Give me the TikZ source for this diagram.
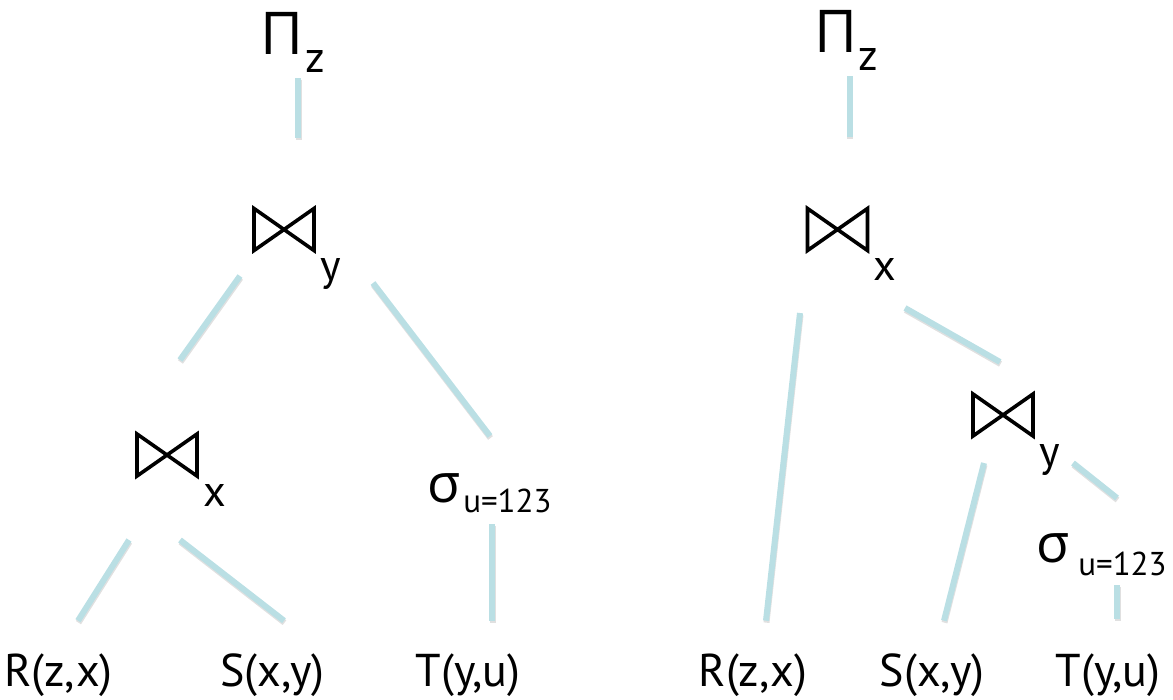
\documentclass[tikz,border=0pt]{standalone}
\usepackage{fontspec}
\setmainfont{PT Sans}
\newfontfamily\greekfont{Open Sans}
\usetikzlibrary{calc,positioning}
\definecolor{linkblue}{HTML}{BADFE4}
\newcommand{\selsub}[3]{{\greekfont\fontsize{54}{54}\selectfont σ}\hspace{#2}\raisebox{-#1}{\fontsize{33}{33}\selectfont #3}}

\begin{document}
\begin{tikzpicture}[x=1pt, y=-1pt,
  op/.style={inner sep=0pt, font=\greekfont\fontsize{59}{59}\selectfont},
  sel/.style={inner sep=0pt, anchor=base west},
  rel/.style={inner sep=0pt, anchor=base, font=\fontsize{46}{46}\selectfont},
  sub/.style={inner sep=0pt, font=\fontsize{44}{44}\selectfont},
  joinop/.style={inner sep=0pt, minimum width=70pt, minimum height=52pt,
    path picture={\draw[line width=3.6pt, line join=miter]
      ([shift={(5pt,-5pt)}]path picture bounding box.north west) --
      ([shift={(-5pt,5pt)}]path picture bounding box.south east) --
      ([shift={(-5pt,-5pt)}]path picture bounding box.north east) --
      ([shift={(5pt,5pt)}]path picture bounding box.south west) -- cycle;}},
  link/.style={draw=linkblue, line width=6pt,
    preaction={draw=black, opacity=0.12, line width=6pt, transform canvas={shift={(0.5pt,-2pt)}}}}
]
  \useasboundingbox (0,0) rectangle (1173,699);

  % left plan
  \node[op, label={[sub, anchor=north west, xshift=1pt, yshift=4pt]south east:z}] (piL) at (282.5,33) {Π};
  \node[joinop, label={[sub, anchor=north west, xshift=1pt, yshift=-3pt]south east:y}] (jyL) at (284,229.5) {};
  \node[joinop, label={[sub, anchor=north west, xshift=1pt, yshift=-3pt]south east:x}] (jxL) at (167,455) {};
  \node[sel] (selL) at (427,502) {\selsub{10pt}{3pt}{u=123}};
  \node[rel] (rL) at (58.5,686) {R(z,x)};
  \node[rel] (sL) at (272.5,686) {S(x,y)};
  \node[rel] (tL) at (468,686) {T(y,u)};

  \draw[link] ($(piL)+(15.5,45)$) -- ($(jyL)+(14,-91.5)$);
  \draw[link] ($(jyL)+(-44,46.5)$) -- ($(jxL)+(13,-95)$);
  \draw[link] ($(jyL)+(89,53.5)$) -- ($(selL.base west)+(63,-66)$);
  \draw[link] ($(selL.base west)+(65,22)$) -- ($(tL)+(24,-54)$);
  \draw[link] ($(jxL)+(-38,85)$) -- ($(rL)+(19.5,-54)$);
  \draw[link] ($(jxL)+(13,85)$) -- ($(sL)+(11.5,-54)$);

  % right plan
  \node[op, label={[sub, anchor=north west, xshift=1pt, yshift=4pt]south east:z}] (piR) at (836,31) {Π};
  \node[joinop, label={[sub, anchor=north west, xshift=1pt, yshift=-3pt]south east:x}] (jxR) at (837.5,229.5) {};
  \node[joinop, label={[sub, anchor=north west, xshift=1pt, yshift=-3pt]south east:y}] (jyR) at (1003,415) {};
  \node[sel] (selR) at (1036,562) {\selsub{13pt}{9pt}{u=123}};
  \node[rel] (rR) at (753,686) {R(z,x)};
  \node[rel] (sR) at (932,686) {S(x,y)};
  \node[rel] (tR) at (1108,686) {T(y,u)};

  \draw[link] ($(piR)+(13.5,45)$) -- ($(jxR)+(12,-92.5)$);
  \draw[link] ($(jxR)+(-37.5,83.5)$) -- ($(rR)+(13,-54)$);
  \draw[link] ($(jxR)+(67.5,78.5)$) -- ($(jyR)+(-3,-53)$);
  \draw[link] ($(jyR)+(-19,48)$) -- ($(sR)+(12,-54)$);
  \draw[link] ($(jyR)+(70,48)$) -- ($(selR.base west)+(81,-64)$);
  \draw[link] ($(selR.base west)+(81,23)$) -- ($(tR)+(9,-56)$);
\end{tikzpicture}
\end{document}
